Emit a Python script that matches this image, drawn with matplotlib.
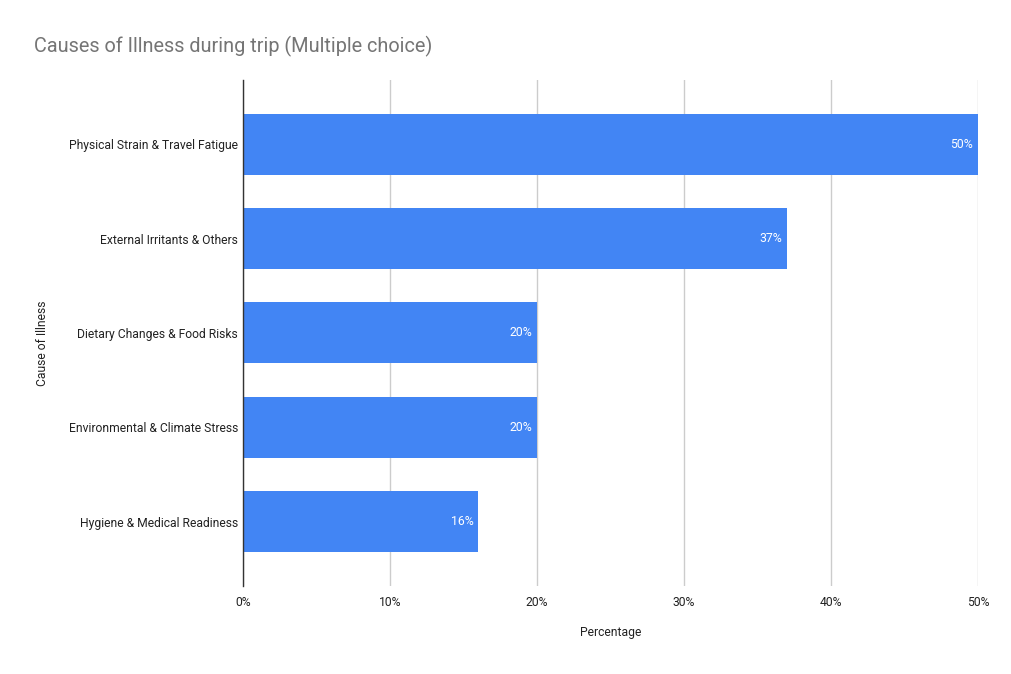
import matplotlib
matplotlib.use("Agg")
import matplotlib.pyplot as plt
from matplotlib.ticker import FuncFormatter

categories = ["Physical Strain & Travel Fatigue", "External Irritants & Others",
              "Dietary Changes & Food Risks", "Environmental & Climate Stress",
              "Hygiene & Medical Readiness"]
values = [50, 37, 20, 20, 16]
xticks = [0, 10, 20, 30, 40, 50]

plt.rcParams['font.family'] = ['Roboto', 'DejaVu Sans']

fig = plt.figure(figsize=(10.12, 6.74), dpi=100)
ax = fig.add_axes([0.2401, 0.1306, 0.7263, 0.7507])

ypos = list(range(len(categories)))
ax.barh(ypos, values, height=0.646, color='#4285f4', zorder=3)
for y, v in zip(ypos, values):
    ax.annotate(f"{v}%", xy=(v, y), xytext=(-3.4, 0), textcoords='offset points',
                color='white', ha='right', va='center', fontsize=8.8, zorder=4)

ax.set_ylim(len(categories) - 1 + 0.68, -0.68)
ax.set_xlim(0, 50)
ax.set_xticks(xticks)
ax.xaxis.set_major_formatter(FuncFormatter(lambda x, p: f"{int(x)}%"))
ax.set_yticks(ypos)
ax.set_yticklabels(categories)
ax.tick_params(axis='both', length=0, labelsize=8.7, colors='#222222')
ax.tick_params(axis='x', pad=7)
ax.tick_params(axis='y', pad=3.6)
ax.grid(axis='x', color='#cccccc', linewidth=1, zorder=0)
for s in ['top', 'right', 'bottom']:
    ax.spines[s].set_visible(False)
ax.spines['left'].set_color('#333333')
ax.spines['left'].set_linewidth(1)
ax.spines['left'].set_zorder(5)

ax.set_xlabel("Percentage", fontsize=8.7, color='#222222', labelpad=12.5)
fig.text(42/1012, 1 - 343/674, "Cause of Illness", rotation=90, ha='center', va='center',
         fontsize=8.7, color='#222222')
fig.text(34/1012, 1 - 46/674, "Causes of Illness during trip (Multiple choice)",
         ha='left', va='center', fontsize=14.3, color='#757575')

fig.savefig("out.png", dpi=100)
